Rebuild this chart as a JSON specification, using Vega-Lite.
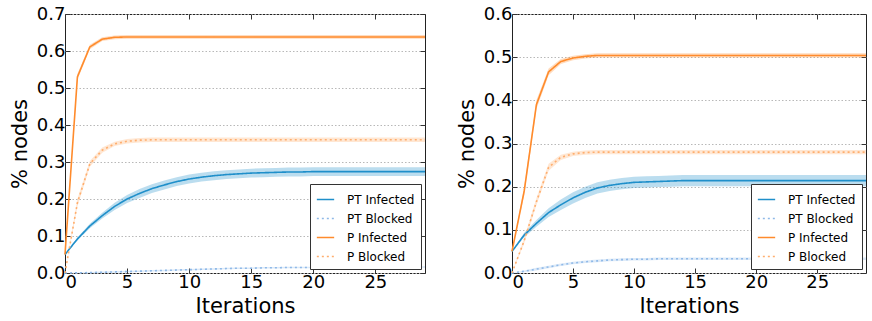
{
  "$schema": "https://vega.github.io/schema/vega-lite/v6.json",
  "padding": {"left": 8, "top": 4, "right": 2, "bottom": 2},
  "spacing": 26,
  "background": "white",
  "config": {
    "font": "DejaVu Sans",
    "view": {"stroke": "#222", "strokeWidth": 1},
    "axis": {
      "labelFontSize": 18, "titleFontSize": 21, "titleFontWeight": "normal",
      "labelColor": "#000", "titleColor": "#000", "domain": false,
      "tickColor": "#333", "tickSize": -5, "labelPadding": 5, "grid": false
    },
    "legend": {
      "orient": "bottom-right", "offset": 4, "strokeColor": "#333", "fillColor": "white",
      "padding": 6, "labelFontSize": 12, "symbolType": "stroke", "symbolSize": 300,
      "symbolStrokeWidth": 1.5, "rowPadding": 3, "labelOffset": 12, "labelColor": "#000"
    }
  },
  "datasets": {
    "left": [
      {"s":"PT Infected","x":0,"y":0.05,"e":0},{"s":"PT Infected","x":1,"y":0.092,"e":0.004},{"s":"PT Infected","x":2,"y":0.127,"e":0.006},{"s":"PT Infected","x":3,"y":0.155,"e":0.008},{"s":"PT Infected","x":4,"y":0.18,"e":0.01},{"s":"PT Infected","x":5,"y":0.2,"e":0.011},{"s":"PT Infected","x":6,"y":0.215,"e":0.012},{"s":"PT Infected","x":7,"y":0.228,"e":0.012},{"s":"PT Infected","x":8,"y":0.238,"e":0.012},{"s":"PT Infected","x":9,"y":0.247,"e":0.012},{"s":"PT Infected","x":10,"y":0.254,"e":0.012},{"s":"PT Infected","x":11,"y":0.259,"e":0.012},{"s":"PT Infected","x":12,"y":0.263,"e":0.012},{"s":"PT Infected","x":13,"y":0.266,"e":0.012},{"s":"PT Infected","x":14,"y":0.268,"e":0.012},{"s":"PT Infected","x":15,"y":0.27,"e":0.012},{"s":"PT Infected","x":16,"y":0.271,"e":0.012},{"s":"PT Infected","x":17,"y":0.272,"e":0.012},{"s":"PT Infected","x":18,"y":0.273,"e":0.012},{"s":"PT Infected","x":19,"y":0.273,"e":0.012},{"s":"PT Infected","x":20,"y":0.274,"e":0.012},{"s":"PT Infected","x":21,"y":0.274,"e":0.012},{"s":"PT Infected","x":22,"y":0.274,"e":0.012},{"s":"PT Infected","x":23,"y":0.274,"e":0.012},{"s":"PT Infected","x":24,"y":0.274,"e":0.012},{"s":"PT Infected","x":25,"y":0.274,"e":0.012},{"s":"PT Infected","x":26,"y":0.274,"e":0.012},{"s":"PT Infected","x":27,"y":0.274,"e":0.012},{"s":"PT Infected","x":28,"y":0.274,"e":0.012},{"s":"PT Infected","x":29,"y":0.274,"e":0.012},
      {"s":"PT Blocked","x":0,"y":0,"e":0},{"s":"PT Blocked","x":1,"y":0.0005,"e":0.001},{"s":"PT Blocked","x":2,"y":0.001,"e":0.002},{"s":"PT Blocked","x":3,"y":0.002,"e":0.002},{"s":"PT Blocked","x":4,"y":0.003,"e":0.002},{"s":"PT Blocked","x":5,"y":0.004,"e":0.002},{"s":"PT Blocked","x":6,"y":0.005,"e":0.002},{"s":"PT Blocked","x":7,"y":0.006,"e":0.002},{"s":"PT Blocked","x":8,"y":0.007,"e":0.002},{"s":"PT Blocked","x":9,"y":0.008,"e":0.002},{"s":"PT Blocked","x":10,"y":0.009,"e":0.002},{"s":"PT Blocked","x":11,"y":0.01,"e":0.002},{"s":"PT Blocked","x":12,"y":0.011,"e":0.002},{"s":"PT Blocked","x":13,"y":0.012,"e":0.002},{"s":"PT Blocked","x":14,"y":0.013,"e":0.002},{"s":"PT Blocked","x":15,"y":0.013,"e":0.002},{"s":"PT Blocked","x":16,"y":0.014,"e":0.002},{"s":"PT Blocked","x":17,"y":0.014,"e":0.002},{"s":"PT Blocked","x":18,"y":0.015,"e":0.002},{"s":"PT Blocked","x":19,"y":0.015,"e":0.002},{"s":"PT Blocked","x":20,"y":0.015,"e":0.002},{"s":"PT Blocked","x":21,"y":0.015,"e":0.002},{"s":"PT Blocked","x":22,"y":0.016,"e":0.002},{"s":"PT Blocked","x":23,"y":0.016,"e":0.002},{"s":"PT Blocked","x":24,"y":0.016,"e":0.002},{"s":"PT Blocked","x":25,"y":0.016,"e":0.002},{"s":"PT Blocked","x":26,"y":0.016,"e":0.002},{"s":"PT Blocked","x":27,"y":0.016,"e":0.002},{"s":"PT Blocked","x":28,"y":0.016,"e":0.002},{"s":"PT Blocked","x":29,"y":0.016,"e":0.002},
      {"s":"P Infected","x":0,"y":0.05,"e":0},{"s":"P Infected","x":1,"y":0.53,"e":0.008},{"s":"P Infected","x":2,"y":0.611,"e":0.006},{"s":"P Infected","x":3,"y":0.632,"e":0.005},{"s":"P Infected","x":4,"y":0.637,"e":0.005},{"s":"P Infected","x":5,"y":0.638,"e":0.005},{"s":"P Infected","x":6,"y":0.638,"e":0.005},{"s":"P Infected","x":7,"y":0.638,"e":0.005},{"s":"P Infected","x":8,"y":0.638,"e":0.005},{"s":"P Infected","x":9,"y":0.638,"e":0.005},{"s":"P Infected","x":10,"y":0.638,"e":0.005},{"s":"P Infected","x":11,"y":0.638,"e":0.005},{"s":"P Infected","x":12,"y":0.638,"e":0.005},{"s":"P Infected","x":13,"y":0.638,"e":0.005},{"s":"P Infected","x":14,"y":0.638,"e":0.005},{"s":"P Infected","x":15,"y":0.638,"e":0.005},{"s":"P Infected","x":16,"y":0.638,"e":0.005},{"s":"P Infected","x":17,"y":0.638,"e":0.005},{"s":"P Infected","x":18,"y":0.638,"e":0.005},{"s":"P Infected","x":19,"y":0.638,"e":0.005},{"s":"P Infected","x":20,"y":0.638,"e":0.005},{"s":"P Infected","x":21,"y":0.638,"e":0.005},{"s":"P Infected","x":22,"y":0.638,"e":0.005},{"s":"P Infected","x":23,"y":0.638,"e":0.005},{"s":"P Infected","x":24,"y":0.638,"e":0.005},{"s":"P Infected","x":25,"y":0.638,"e":0.005},{"s":"P Infected","x":26,"y":0.638,"e":0.005},{"s":"P Infected","x":27,"y":0.638,"e":0.005},{"s":"P Infected","x":28,"y":0.638,"e":0.005},{"s":"P Infected","x":29,"y":0.638,"e":0.005},
      {"s":"P Blocked","x":0,"y":0,"e":0},{"s":"P Blocked","x":1,"y":0.19,"e":0.01},{"s":"P Blocked","x":2,"y":0.295,"e":0.008},{"s":"P Blocked","x":3,"y":0.332,"e":0.007},{"s":"P Blocked","x":4,"y":0.349,"e":0.006},{"s":"P Blocked","x":5,"y":0.356,"e":0.006},{"s":"P Blocked","x":6,"y":0.359,"e":0.006},{"s":"P Blocked","x":7,"y":0.36,"e":0.006},{"s":"P Blocked","x":8,"y":0.36,"e":0.006},{"s":"P Blocked","x":9,"y":0.36,"e":0.006},{"s":"P Blocked","x":10,"y":0.36,"e":0.006},{"s":"P Blocked","x":11,"y":0.36,"e":0.006},{"s":"P Blocked","x":12,"y":0.36,"e":0.006},{"s":"P Blocked","x":13,"y":0.36,"e":0.006},{"s":"P Blocked","x":14,"y":0.36,"e":0.006},{"s":"P Blocked","x":15,"y":0.36,"e":0.006},{"s":"P Blocked","x":16,"y":0.36,"e":0.006},{"s":"P Blocked","x":17,"y":0.36,"e":0.006},{"s":"P Blocked","x":18,"y":0.36,"e":0.006},{"s":"P Blocked","x":19,"y":0.36,"e":0.006},{"s":"P Blocked","x":20,"y":0.36,"e":0.006},{"s":"P Blocked","x":21,"y":0.36,"e":0.006},{"s":"P Blocked","x":22,"y":0.36,"e":0.006},{"s":"P Blocked","x":23,"y":0.36,"e":0.006},{"s":"P Blocked","x":24,"y":0.36,"e":0.006},{"s":"P Blocked","x":25,"y":0.36,"e":0.006},{"s":"P Blocked","x":26,"y":0.36,"e":0.006},{"s":"P Blocked","x":27,"y":0.36,"e":0.006},{"s":"P Blocked","x":28,"y":0.36,"e":0.006},{"s":"P Blocked","x":29,"y":0.36,"e":0.006}
    ],
    "right": [
      {"s":"PT Infected","x":0,"y":0.05,"e":0},{"s":"PT Infected","x":1,"y":0.088,"e":0.005},{"s":"PT Infected","x":2,"y":0.115,"e":0.008},{"s":"PT Infected","x":3,"y":0.14,"e":0.01},{"s":"PT Infected","x":4,"y":0.158,"e":0.012},{"s":"PT Infected","x":5,"y":0.174,"e":0.013},{"s":"PT Infected","x":6,"y":0.187,"e":0.013},{"s":"PT Infected","x":7,"y":0.197,"e":0.013},{"s":"PT Infected","x":8,"y":0.203,"e":0.013},{"s":"PT Infected","x":9,"y":0.207,"e":0.013},{"s":"PT Infected","x":10,"y":0.21,"e":0.013},{"s":"PT Infected","x":11,"y":0.211,"e":0.013},{"s":"PT Infected","x":12,"y":0.212,"e":0.013},{"s":"PT Infected","x":13,"y":0.213,"e":0.013},{"s":"PT Infected","x":14,"y":0.214,"e":0.013},{"s":"PT Infected","x":15,"y":0.214,"e":0.013},{"s":"PT Infected","x":16,"y":0.214,"e":0.013},{"s":"PT Infected","x":17,"y":0.214,"e":0.013},{"s":"PT Infected","x":18,"y":0.214,"e":0.013},{"s":"PT Infected","x":19,"y":0.214,"e":0.013},{"s":"PT Infected","x":20,"y":0.214,"e":0.013},{"s":"PT Infected","x":21,"y":0.214,"e":0.013},{"s":"PT Infected","x":22,"y":0.214,"e":0.013},{"s":"PT Infected","x":23,"y":0.214,"e":0.013},{"s":"PT Infected","x":24,"y":0.214,"e":0.013},{"s":"PT Infected","x":25,"y":0.214,"e":0.013},{"s":"PT Infected","x":26,"y":0.214,"e":0.013},{"s":"PT Infected","x":27,"y":0.214,"e":0.013},{"s":"PT Infected","x":28,"y":0.214,"e":0.013},{"s":"PT Infected","x":29,"y":0.214,"e":0.013},
      {"s":"PT Blocked","x":0,"y":0,"e":0},{"s":"PT Blocked","x":1,"y":0.004,"e":0.002},{"s":"PT Blocked","x":2,"y":0.009,"e":0.003},{"s":"PT Blocked","x":3,"y":0.014,"e":0.003},{"s":"PT Blocked","x":4,"y":0.019,"e":0.003},{"s":"PT Blocked","x":5,"y":0.023,"e":0.003},{"s":"PT Blocked","x":6,"y":0.026,"e":0.003},{"s":"PT Blocked","x":7,"y":0.028,"e":0.003},{"s":"PT Blocked","x":8,"y":0.03,"e":0.003},{"s":"PT Blocked","x":9,"y":0.031,"e":0.003},{"s":"PT Blocked","x":10,"y":0.032,"e":0.003},{"s":"PT Blocked","x":11,"y":0.032,"e":0.003},{"s":"PT Blocked","x":12,"y":0.033,"e":0.003},{"s":"PT Blocked","x":13,"y":0.033,"e":0.003},{"s":"PT Blocked","x":14,"y":0.033,"e":0.003},{"s":"PT Blocked","x":15,"y":0.033,"e":0.003},{"s":"PT Blocked","x":16,"y":0.033,"e":0.003},{"s":"PT Blocked","x":17,"y":0.033,"e":0.003},{"s":"PT Blocked","x":18,"y":0.033,"e":0.003},{"s":"PT Blocked","x":19,"y":0.033,"e":0.003},{"s":"PT Blocked","x":20,"y":0.033,"e":0.003},{"s":"PT Blocked","x":21,"y":0.033,"e":0.003},{"s":"PT Blocked","x":22,"y":0.033,"e":0.003},{"s":"PT Blocked","x":23,"y":0.033,"e":0.003},{"s":"PT Blocked","x":24,"y":0.033,"e":0.003},{"s":"PT Blocked","x":25,"y":0.033,"e":0.003},{"s":"PT Blocked","x":26,"y":0.033,"e":0.003},{"s":"PT Blocked","x":27,"y":0.033,"e":0.003},{"s":"PT Blocked","x":28,"y":0.033,"e":0.003},{"s":"PT Blocked","x":29,"y":0.033,"e":0.003},
      {"s":"P Infected","x":0,"y":0.05,"e":0},{"s":"P Infected","x":1,"y":0.19,"e":0.01},{"s":"P Infected","x":2,"y":0.39,"e":0.01},{"s":"P Infected","x":3,"y":0.466,"e":0.008},{"s":"P Infected","x":4,"y":0.49,"e":0.006},{"s":"P Infected","x":5,"y":0.498,"e":0.005},{"s":"P Infected","x":6,"y":0.502,"e":0.005},{"s":"P Infected","x":7,"y":0.504,"e":0.005},{"s":"P Infected","x":8,"y":0.504,"e":0.005},{"s":"P Infected","x":9,"y":0.504,"e":0.005},{"s":"P Infected","x":10,"y":0.504,"e":0.005},{"s":"P Infected","x":11,"y":0.504,"e":0.005},{"s":"P Infected","x":12,"y":0.504,"e":0.005},{"s":"P Infected","x":13,"y":0.504,"e":0.005},{"s":"P Infected","x":14,"y":0.504,"e":0.005},{"s":"P Infected","x":15,"y":0.504,"e":0.005},{"s":"P Infected","x":16,"y":0.504,"e":0.005},{"s":"P Infected","x":17,"y":0.504,"e":0.005},{"s":"P Infected","x":18,"y":0.504,"e":0.005},{"s":"P Infected","x":19,"y":0.504,"e":0.005},{"s":"P Infected","x":20,"y":0.504,"e":0.005},{"s":"P Infected","x":21,"y":0.504,"e":0.005},{"s":"P Infected","x":22,"y":0.504,"e":0.005},{"s":"P Infected","x":23,"y":0.504,"e":0.005},{"s":"P Infected","x":24,"y":0.504,"e":0.005},{"s":"P Infected","x":25,"y":0.504,"e":0.005},{"s":"P Infected","x":26,"y":0.504,"e":0.005},{"s":"P Infected","x":27,"y":0.504,"e":0.005},{"s":"P Infected","x":28,"y":0.504,"e":0.005},{"s":"P Infected","x":29,"y":0.504,"e":0.005},
      {"s":"P Blocked","x":0,"y":0,"e":0},{"s":"P Blocked","x":1,"y":0.075,"e":0.006},{"s":"P Blocked","x":2,"y":0.165,"e":0.008},{"s":"P Blocked","x":3,"y":0.245,"e":0.008},{"s":"P Blocked","x":4,"y":0.268,"e":0.006},{"s":"P Blocked","x":5,"y":0.276,"e":0.005},{"s":"P Blocked","x":6,"y":0.279,"e":0.005},{"s":"P Blocked","x":7,"y":0.28,"e":0.005},{"s":"P Blocked","x":8,"y":0.28,"e":0.005},{"s":"P Blocked","x":9,"y":0.28,"e":0.005},{"s":"P Blocked","x":10,"y":0.28,"e":0.005},{"s":"P Blocked","x":11,"y":0.28,"e":0.005},{"s":"P Blocked","x":12,"y":0.28,"e":0.005},{"s":"P Blocked","x":13,"y":0.28,"e":0.005},{"s":"P Blocked","x":14,"y":0.28,"e":0.005},{"s":"P Blocked","x":15,"y":0.28,"e":0.005},{"s":"P Blocked","x":16,"y":0.28,"e":0.005},{"s":"P Blocked","x":17,"y":0.28,"e":0.005},{"s":"P Blocked","x":18,"y":0.28,"e":0.005},{"s":"P Blocked","x":19,"y":0.28,"e":0.005},{"s":"P Blocked","x":20,"y":0.28,"e":0.005},{"s":"P Blocked","x":21,"y":0.28,"e":0.005},{"s":"P Blocked","x":22,"y":0.28,"e":0.005},{"s":"P Blocked","x":23,"y":0.28,"e":0.005},{"s":"P Blocked","x":24,"y":0.28,"e":0.005},{"s":"P Blocked","x":25,"y":0.28,"e":0.005},{"s":"P Blocked","x":26,"y":0.28,"e":0.005},{"s":"P Blocked","x":27,"y":0.28,"e":0.005},{"s":"P Blocked","x":28,"y":0.28,"e":0.005},{"s":"P Blocked","x":29,"y":0.28,"e":0.005}
    ]
  },
  "hconcat": [
    {
      "width": 360, "height": 259,
      "data": {"name": "left"},
      "layer": [
        {
          "mark": {"type": "errorband", "opacity": 0.3},
          "encoding": {
            "x": {"field": "x", "type": "quantitative", "scale": {"domain": [0, 29], "nice": false},
                  "axis": {"orient": "top", "labels": false, "labelPadding": 0, "minExtent": 0, "maxExtent": 0, "title": null, "values": [0,5,10,15,20,25]}},
            "y": {"field": "y", "type": "quantitative", "scale": {"domain": [0, 0.7], "nice": false},
                  "axis": {"orient": "right", "labels": false, "labelPadding": 0, "minExtent": 0, "maxExtent": 0, "title": null, "values": [0,0.1,0.2,0.3,0.4,0.5,0.6,0.7]}},
            "yError": {"field": "e"},
            "fill": {"field": "s", "type": "nominal", "legend": null,
                      "scale": {"domain": ["PT Infected","PT Blocked","P Infected","P Blocked"], "range": ["#1f8fca","#8fb9e8","#ff8b2c","#ffae6e"]}}
          }
        },
        {
          "mark": {"type": "line", "strokeWidth": 1.6},
          "encoding": {
            "x": {"field": "x", "type": "quantitative", "title": "Iterations",
                  "axis": {"values": [0,5,10,15,20,25], "titlePadding": 4}},
            "y": {"field": "y", "type": "quantitative", "title": "% nodes",
                  "axis": {"values": [0,0.1,0.2,0.3,0.4,0.5,0.6,0.7], "format": ".1f", "grid": true, "gridDash": [1.5,2], "gridColor": "#b8b8b8", "titlePadding": 6}},
            "color": {"field": "s", "type": "nominal", "title": null,
                      "scale": {"domain": ["PT Infected","PT Blocked","P Infected","P Blocked"], "range": ["#1f8fca","#8fb9e8","#ff8b2c","#ffae6e"]}},
            "strokeDash": {"field": "s", "type": "nominal", "title": null,
                      "scale": {"domain": ["PT Infected","PT Blocked","P Infected","P Blocked"], "range": [[1,0],[2,3],[1,0],[2,3]]}}
          }
        }
      ],
      "resolve": {"axis": {"x": "independent", "y": "independent"}, "scale": {"color": "independent", "strokeDash": "independent", "fill": "independent"}}
    },
    {
      "width": 354, "height": 259,
      "data": {"name": "right"},
      "layer": [
        {
          "mark": {"type": "errorband", "opacity": 0.3},
          "encoding": {
            "x": {"field": "x", "type": "quantitative", "scale": {"domain": [0, 29], "nice": false},
                  "axis": {"orient": "top", "labels": false, "labelPadding": 0, "minExtent": 0, "maxExtent": 0, "title": null, "values": [0,5,10,15,20,25]}},
            "y": {"field": "y", "type": "quantitative", "scale": {"domain": [0, 0.6], "nice": false},
                  "axis": {"orient": "right", "labels": false, "labelPadding": 0, "minExtent": 0, "maxExtent": 0, "title": null, "values": [0,0.1,0.2,0.3,0.4,0.5,0.6]}},
            "yError": {"field": "e"},
            "fill": {"field": "s", "type": "nominal", "legend": null,
                      "scale": {"domain": ["PT Infected","PT Blocked","P Infected","P Blocked"], "range": ["#1f8fca","#8fb9e8","#ff8b2c","#ffae6e"]}}
          }
        },
        {
          "mark": {"type": "line", "strokeWidth": 1.6},
          "encoding": {
            "x": {"field": "x", "type": "quantitative", "title": "Iterations",
                  "axis": {"values": [0,5,10,15,20,25], "titlePadding": 4}},
            "y": {"field": "y", "type": "quantitative", "title": "% nodes",
                  "axis": {"values": [0,0.1,0.2,0.3,0.4,0.5,0.6], "format": ".1f", "grid": true, "gridDash": [1.5,2], "gridColor": "#b8b8b8", "titlePadding": 6}},
            "color": {"field": "s", "type": "nominal", "title": null,
                      "scale": {"domain": ["PT Infected","PT Blocked","P Infected","P Blocked"], "range": ["#1f8fca","#8fb9e8","#ff8b2c","#ffae6e"]}},
            "strokeDash": {"field": "s", "type": "nominal", "title": null,
                      "scale": {"domain": ["PT Infected","PT Blocked","P Infected","P Blocked"], "range": [[1,0],[2,3],[1,0],[2,3]]}}
          }
        }
      ],
      "resolve": {"axis": {"x": "independent", "y": "independent"}, "scale": {"color": "independent", "strokeDash": "independent", "fill": "independent"}}
    }
  ],
  "resolve": {
    "scale": {"color": "independent", "fill": "independent", "strokeDash": "independent", "x": "independent", "y": "independent"},
    "legend": {"color": "independent", "strokeDash": "independent"}
  }
}
